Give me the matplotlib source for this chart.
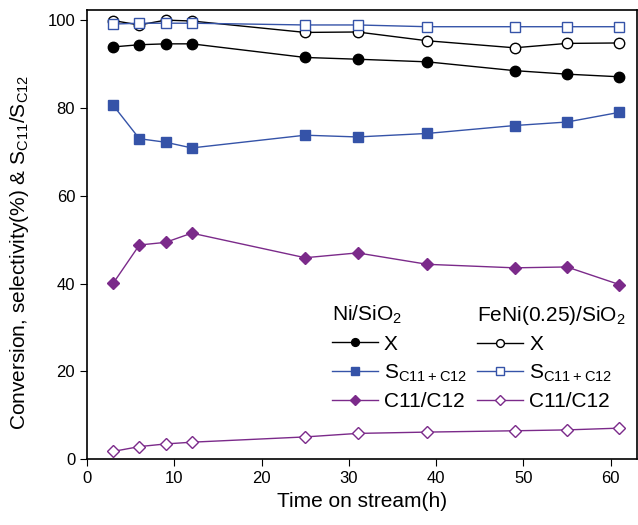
import matplotlib
matplotlib.use('agg')
import matplotlib.pyplot as plt

time_h = [3, 6, 9, 12, 25, 31, 39, 49, 55, 61]

ni_conv = [93.9, 94.4, 94.6, 94.6, 91.5, 91.1, 90.5, 88.5, 87.7, 87.1]
ni_sel = [80.6, 73.0, 72.2, 70.9, 73.8, 73.4, 74.2, 76.0, 76.8, 79.0]
ni_ratio = [40.1, 48.8, 49.4, 51.5, 45.9, 47.0, 44.4, 43.6, 43.8, 39.8]

feni_conv = [99.9, 98.9, 100.0, 99.8, 97.2, 97.3, 95.3, 93.7, 94.7, 94.8]
feni_sel = [99.1, 99.3, 99.3, 99.3, 98.9, 98.9, 98.5, 98.5, 98.5, 98.5]
feni_ratio = [1.8, 2.9, 3.5, 3.9, 5.1, 5.9, 6.2, 6.5, 6.7, 7.1]

blue = '#3553a8'
purple = '#7b2a8a'

plt.rcParams['font.family'] = 'Liberation Sans'

fig = plt.figure(figsize=(6.38, 5.25), dpi=100)
ax = fig.add_axes([0.1364, 0.1251, 0.8616, 0.8558])

ni = []
ni.append(ax.plot(time_h, ni_conv, '-o', color='black', mfc='black', ms=7.5, lw=1.0, label='X')[0])
ni.append(ax.plot(time_h, ni_sel, '-s', color=blue, mfc=blue, ms=7.5, lw=1.0, label='S$_{\\mathregular{C11+C12}}$')[0])
ni.append(ax.plot(time_h, ni_ratio, '-D', color=purple, mfc=purple, ms=6.5, lw=1.0, label='C11/C12')[0])

fe = []
fe.append(ax.plot(time_h, feni_conv, '-o', color='black', mfc='white', ms=7.5, lw=1.0, label='X')[0])
fe.append(ax.plot(time_h, feni_sel, '-s', color=blue, mfc='white', ms=7.5, lw=1.0, label='S$_{\\mathregular{C11+C12}}$')[0])
fe.append(ax.plot(time_h, feni_ratio, '-D', color=purple, mfc='white', ms=6.5, lw=1.0, label='C11/C12')[0])

ax.set_xlim(0, 63)
ax.set_ylim(0, 102.3)
ax.set_xticks(range(0, 61, 10))
ax.set_yticks(range(0, 101, 20))
ax.tick_params(labelsize=12, direction='out', length=5)
for s in ax.spines.values():
    s.set_linewidth(1.2)

ax.set_xlabel('Time on stream(h)', fontsize=15)
ax.set_ylabel('Conversion, selectivity(%) & S$_{\\mathregular{C11}}$/S$_{\\mathregular{C12}}$', fontsize=15)
ax.yaxis.set_label_coords(-0.102, 0.461)

leg_kw = dict(loc='upper left', frameon=False, fontsize=15, title_fontsize=15,
              handlelength=2.2, handletextpad=0.3, labelspacing=0.4,
              markerscale=0.75, alignment='left', borderaxespad=0)
leg1 = ax.legend(handles=ni, title='Ni/SiO$_\\mathregular{2}$',
                 bbox_to_anchor=(0.43, 0.365), **leg_kw)
ax.add_artist(leg1)
ax.legend(handles=fe, title='FeNi(0.25)/SiO$_\\mathregular{2}$',
          bbox_to_anchor=(0.695, 0.365), **leg_kw)

fig.savefig('out.png', dpi=100)
